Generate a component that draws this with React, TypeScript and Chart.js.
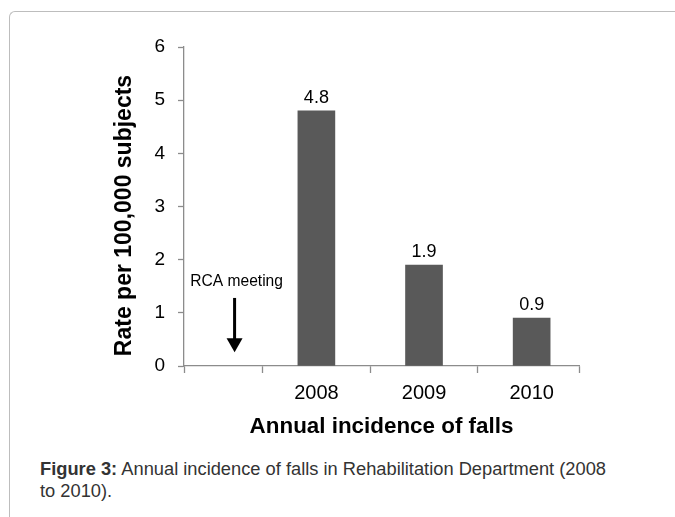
import React, { useEffect, useRef } from 'react';
import { Chart, registerables } from 'chart.js';

Chart.register(...registerables);

// ---- data ----
const categories = ['2008', '2009', '2010'];
const rates = [4.8, 1.9, 0.9];
const valueLabels = ['4.8', '1.9', '0.9'];
const yTickValues = [0, 1, 2, 3, 4, 5, 6];
const yAxisTitle = 'Rate per 100,000 subjects';
const xAxisTitle = 'Annual incidence of falls';
const annotationText = 'RCA meeting';
// annotation anchor in data units (x index, y value)
const annotationX = 0.24;
const annotationTextY = 1.58;
const arrowFromY = 1.28;
const arrowToY = 0.26;

const FONT = "'Liberation Sans', Arial, Helvetica, sans-serif";
const AXIS = '#8c8c8c';
const BAR = '#595959';
const X_MIN = -0.23;
const X_MAX = 3.44;

const isCategoryCenter = (v: number) => Number.isInteger(v) && v >= 1 && v <= categories.length;

const valueLabelPlugin = {
  id: 'valueLabels',
  afterDatasetsDraw(chart: any) {
    const { ctx } = chart;
    const meta = chart.getDatasetMeta(0);
    ctx.save();
    ctx.font = `18px ${FONT}`;
    ctx.fillStyle = '#000';
    ctx.textAlign = 'center';
    ctx.textBaseline = 'alphabetic';
    meta.data.forEach((el: any, i: number) => {
      ctx.fillText(valueLabels[i], el.x, el.y - 8);
    });
    ctx.restore();
  },
};

// y-axis title, placed slightly below the axis centre as in the original
const yTitlePlugin = {
  id: 'yTitle',
  afterDraw(chart: any) {
    const { ctx, chartArea } = chart;
    const cy = (chartArea.top + chartArea.bottom) / 2 + 9;
    ctx.save();
    ctx.translate(125, cy);
    ctx.rotate(-Math.PI / 2);
    ctx.font = `bold 23px ${FONT}`;
    ctx.fillStyle = '#000';
    ctx.textAlign = 'center';
    ctx.textBaseline = 'middle';
    ctx.fillText(yAxisTitle, 0, 0);
    ctx.restore();
  },
};

const annotationPlugin = {
  id: 'rcaAnnotation',
  afterDatasetsDraw(chart: any) {
    const { ctx, scales } = chart;
    const x = scales.x.getPixelForValue(annotationX);
    const ty = scales.y.getPixelForValue(annotationTextY);
    const y0 = scales.y.getPixelForValue(arrowFromY);
    const tip = scales.y.getPixelForValue(arrowToY);
    ctx.save();
    ctx.font = `15.6px ${FONT}`;
    ctx.fillStyle = '#000';
    ctx.textAlign = 'center';
    ctx.textBaseline = 'middle';
    ctx.fillText(annotationText, x + 2, ty);
    const headH = 14;
    const headW = 16;
    ctx.fillRect(x - 1.5, y0, 3, tip - headH - y0 + 1);
    ctx.beginPath();
    ctx.moveTo(x - headW / 2, tip - headH);
    ctx.lineTo(x + headW / 2, tip - headH);
    ctx.lineTo(x, tip);
    ctx.closePath();
    ctx.fill();
    ctx.restore();
  },
};

function BarChart() {
  const ref = useRef<HTMLCanvasElement | null>(null);
  useEffect(() => {
    if (!ref.current) return;
    const chart = new Chart(ref.current, {
      type: 'bar',
      data: {
        datasets: [
          {
            data: categories.map((c, i) => ({ x: i + 1, y: rates[i] })),
            backgroundColor: BAR,
            borderWidth: 0,
            barThickness: 37,
          } as any,
        ],
      },
      options: {
        animation: false,
        responsive: false,
        maintainAspectRatio: false,
        layout: { padding: { left: 0, top: 47, right: 96, bottom: 0 } },
        plugins: { legend: { display: false }, tooltip: { enabled: false } },
        scales: {
          x: {
            type: 'linear',
            min: X_MIN,
            max: X_MAX,
            offset: false,
            afterBuildTicks: (s: any) => {
              s.ticks = [X_MIN, 0.5, 1, 1.5, 2, 2.5, 3, X_MAX].map((v) => ({ value: v }));
            },
            afterFit: (s: any) => {
              s.height = 84;
            },
            grid: {
              display: true,
              drawOnChartArea: false,
              drawTicks: true,
              tickLength: 7,
              offset: false,
              color: AXIS,
              tickWidth: 1.3,
              tickColor: (c: any) => (c.tick && isCategoryCenter(c.tick.value) ? 'rgba(0,0,0,0)' : AXIS),
            },
            border: { display: true, color: AXIS, width: 1.3 },
            ticks: {
              autoSkip: false,
              maxRotation: 0,
              minRotation: 0,
              padding: 8,
              color: '#000',
              font: { family: FONT, size: 20 },
              callback: (v: any) => (isCategoryCenter(Number(v)) ? categories[Number(v) - 1] : ''),
            },
            title: {
              display: true,
              text: xAxisTitle,
              color: '#000',
              font: { family: FONT, size: 22.4, weight: 'bold', lineHeight: 1 },
              padding: { top: 0, bottom: 11.5 },
            },
          } as any,
          y: {
            min: 0,
            max: 6,
            afterBuildTicks: (s: any) => {
              s.ticks = yTickValues.map((v) => ({ value: v }));
            },
            afterFit: (s: any) => {
              s.width = 184;
            },
            grid: {
              display: true,
              drawOnChartArea: false,
              drawTicks: true,
              tickLength: 6,
              color: AXIS,
              tickColor: AXIS,
              tickWidth: 1.3,
            },
            border: { display: true, color: AXIS, width: 1.3 },
            ticks: {
              padding: 13,
              color: '#000',
              font: { family: FONT, size: 19 },
            },
            title: { display: false },
          } as any,
        },
      } as any,
      plugins: [valueLabelPlugin, annotationPlugin, yTitlePlugin],
    });
    return () => chart.destroy();
  }, []);
  return <canvas ref={ref} width={675} height={450} style={{ position: 'absolute', left: 0, top: 0, width: 675, height: 450 }} />;
}

export default function App() {
  return (
    <div style={{ position: 'absolute', left: 0, top: 0, width: 675, height: 517, background: '#fff', overflow: 'hidden' }}>
      <div
        style={{
          position: 'absolute',
          left: 9,
          top: 11,
          width: 720,
          height: 560,
          borderTop: '1.5px solid #bdbdbd',
          borderLeft: '1.5px solid #bdbdbd',
          borderTopLeftRadius: 6,
          boxSizing: 'border-box',
        }}
      />
      <BarChart />
      <div
        style={{
          position: 'absolute',
          left: 40,
          top: 458,
          width: 580,
          fontFamily: FONT,
          fontSize: 18.3,
          lineHeight: '22px',
          color: '#333',
        }}
      >
        <b>Figure 3:</b> Annual incidence of falls in Rehabilitation Department (2008 to 2010).
      </div>
    </div>
  );
}
